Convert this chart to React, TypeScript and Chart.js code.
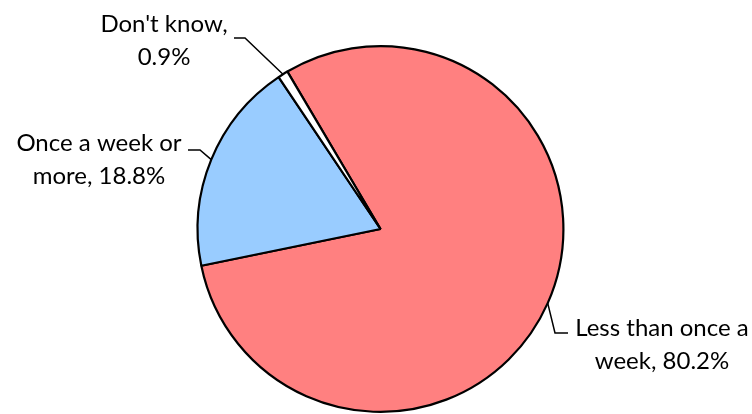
import React, { useEffect, useRef } from "react";
import { Chart, registerables } from "chart.js";

Chart.register(...registerables);

const categories = ["Less than once a week", "Once a week or more", "Don't know"];
const values = [80.2, 18.8, 0.9];
const labelLines = [
  ["Less than once a", "week, 80.2%"],
  ["Once a week or", "more, 18.8%"],
  ["Don't know,", "0.9%"],
];
const colors = ["#FF8080", "#99CCFF", "#FFFFFF"];

// label layout: text center x, first line y, elbow point, horizontal end
const labelLayout = [
  { tx: 662, ty: 328, elbow: [555, 333], end: [568, 333] },
  { tx: 99, ty: 143, elbow: [200, 150], end: [188, 150] },
  { tx: 164, ty: 24, elbow: [245, 38], end: [234, 38] },
];

const FONT = "24px Lato";
const LINE_H = 33;

const leaderPlugin = {
  id: "leaders",
  afterDatasetsDraw(chart: any) {
    const ctx = chart.ctx;
    const meta = chart.getDatasetMeta(0);
    ctx.save();
    meta.data.forEach((arc: any, i: number) => {
      const p = arc.getProps(["x", "y", "startAngle", "endAngle", "outerRadius"], true);
      const mid = (p.startAngle + p.endAngle) / 2;
      const sx = p.x + Math.cos(mid) * p.outerRadius;
      const sy = p.y + Math.sin(mid) * p.outerRadius;
      const L = labelLayout[i];
      ctx.strokeStyle = "#000";
      ctx.lineWidth = 1.5;
      ctx.beginPath();
      ctx.moveTo(sx, sy);
      ctx.lineTo(L.elbow[0], L.elbow[1]);
      ctx.lineTo(L.end[0], L.end[1]);
      ctx.stroke();
      ctx.fillStyle = "#000";
      ctx.font = FONT;
      ctx.textAlign = "center";
      ctx.textBaseline = "middle";
      labelLines[i].forEach((t, k) => {
        ctx.fillText(t, L.tx, L.ty + k * LINE_H);
      });
    });
    ctx.restore();
  },
};

export default function App() {
  const ref = useRef<HTMLCanvasElement>(null);
  useEffect(() => {
    document.body.style.margin = "0";
    const chart = new Chart(ref.current!, {
      type: "pie",
      data: {
        labels: categories,
        datasets: [
          {
            data: values,
            backgroundColor: colors,
            borderColor: "#000",
            borderWidth: 2.2,
          },
        ],
      },
      options: {
        responsive: false,
        animation: false,
        rotation: -30.6,
        layout: { padding: { left: 196, right: 187, top: 45, bottom: 1 } },
        plugins: { legend: { display: false }, tooltip: { enabled: false } },
      },
      plugins: [leaderPlugin],
    });
    return () => chart.destroy();
  }, []);
  return <canvas ref={ref} width={752} height={414} style={{ display: "block" }} />;
}
